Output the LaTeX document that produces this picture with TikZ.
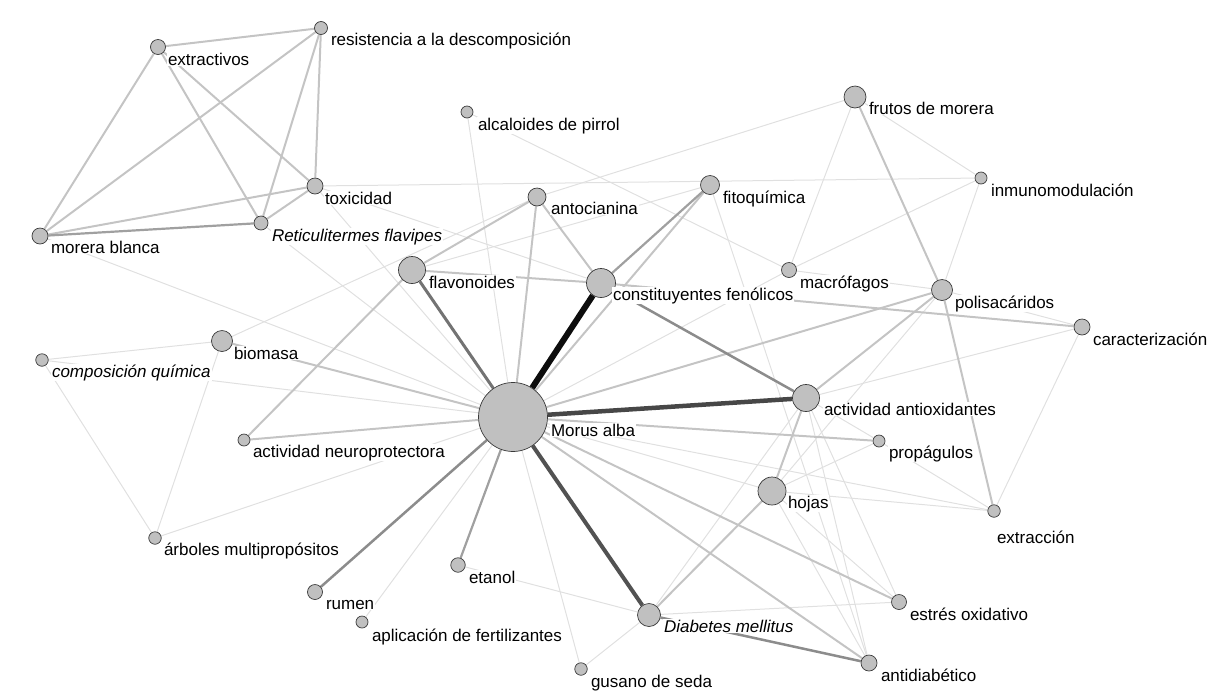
\documentclass[tikz,border=0pt]{standalone}
\usepackage{fontspec}
\setmainfont{Liberation Sans}
\definecolor{vfill}{HTML}{C0C0C0}
\definecolor{vline}{HTML}{3A3A3A}
\definecolor{efaint}{HTML}{E0E0E0}
\definecolor{elight}{HTML}{C4C4C4}
\definecolor{emid}{HTML}{A0A0A0}
\definecolor{edark}{HTML}{8C8C8C}
\pgfdeclarelayer{background}
\pgfsetlayers{background,main}

\begin{document}
\begin{tikzpicture}
  [x=1pt,y=-1pt,
   v/.style={circle,fill=vfill,draw=vline,line width=0.7pt,inner sep=0pt},
   lab/.style={anchor=base west,fill=white,inner sep=0.8pt,font=\fontsize{17}{20}\selectfont},
   faint/.style={draw=efaint,line width=1pt},
   light/.style={draw=elight,line width=2pt},
   mid/.style={draw=emid,line width=2.2pt},
   heavy/.style={draw=edark,line width=2.5pt}]
  \useasboundingbox (0,0) rectangle (1216,697);

  \node[v,minimum size=15pt] (extr) at (158,47) {};
  \node[v,minimum size=13pt] (resis) at (321,28) {};
  \node[v,minimum size=12pt] (alcal) at (467,112) {};
  \node[v,minimum size=22pt] (frutos) at (855,97) {};
  \node[v,minimum size=12pt] (inmuno) at (981,178) {};
  \node[v,minimum size=16pt] (toxic) at (315,186) {};
  \node[v,minimum size=19pt] (fito) at (710,185) {};
  \node[v,minimum size=18pt] (antoc) at (537,197) {};
  \node[v,minimum size=16pt] (morera) at (40,236) {};
  \node[v,minimum size=14pt] (retic) at (261,223) {};
  \node[v,minimum size=15pt] (macro) at (789,270) {};
  \node[v,minimum size=27pt] (flavo) at (412,270) {};
  \node[v,minimum size=29pt] (const) at (601,283) {};
  \node[v,minimum size=21pt] (polis) at (942,290) {};
  \node[v,minimum size=16pt] (caract) at (1082,327) {};
  \node[v,minimum size=21pt] (biomasa) at (222,341) {};
  \node[v,minimum size=12.5pt] (compos) at (42,360) {};
  \node[v,minimum size=69pt] (morus) at (513,417) {};
  \node[v,minimum size=27pt] (antiox) at (806,398) {};
  \node[v,minimum size=12pt] (neuro) at (244,440) {};
  \node[v,minimum size=12pt] (propag) at (879,441) {};
  \node[v,minimum size=28pt] (hojas) at (772,491) {};
  \node[v,minimum size=12.5pt] (extrac) at (994,511) {};
  \node[v,minimum size=12.5pt] (arboles) at (155,538) {};
  \node[v,minimum size=14.5pt] (etanol) at (458,565) {};
  \node[v,minimum size=15pt] (rumen) at (315,592) {};
  \node[v,minimum size=15pt] (estres) at (899,602) {};
  \node[v,minimum size=23pt] (diab) at (649,615) {};
  \node[v,minimum size=12pt] (aplic) at (362,622) {};
  \node[v,minimum size=16pt] (antid) at (869,663) {};
  \node[v,minimum size=12.5pt] (gusano) at (581,669) {};

  \begin{pgfonlayer}{background}
    \foreach \from/\to in {morus/morera,morus/retic,morus/toxic,morus/alcal,morus/compos,
        morus/arboles,morus/aplic,morus/gusano,morus/hojas,morus/extrac,morus/macro,
        toxic/inmuno,toxic/const,flavo/fito,antoc/frutos,biomasa/antoc,biomasa/compos,
        biomasa/arboles,compos/arboles,alcal/macro,macro/frutos,macro/inmuno,macro/polis,
        frutos/inmuno,inmuno/polis,polis/caract,caract/antiox,caract/extrac,extrac/hojas,
        extrac/propag,propag/hojas,propag/antiox,hojas/estres,hojas/antid,antiox/estres,
        antiox/antid,diab/estres,diab/etanol,diab/gusano,diab/antiox,fito/antid,hojas/polis}
      \draw[faint] (\from) -- (\to);
    \foreach \from/\to in {extr/resis,extr/morera,extr/retic,extr/toxic,resis/morera,
        resis/retic,resis/toxic,morera/toxic,retic/toxic,morus/biomasa,morus/neuro,
        morus/propag,morus/estres,morus/antid,morus/polis,morus/antoc,morus/fito,
        flavo/antoc,flavo/const,flavo/neuro,antoc/const,const/caract,polis/frutos,
        polis/antiox,polis/extrac,antiox/hojas,hojas/diab}
      \draw[light] (\from) -- (\to);
    \foreach \from/\to in {morus/etanol,const/fito,morera/retic}
      \draw[mid] (\from) -- (\to);
    \foreach \from/\to in {morus/rumen,const/antiox,diab/antid}
      \draw[heavy] (\from) -- (\to);
    \draw[draw=black!55,line width=3pt] (morus) -- (flavo);
    \draw[draw=black!68,line width=4pt] (morus) -- (diab);
    \draw[draw=black!72,line width=4.5pt] (morus) -- (antiox);
    \draw[draw=black!95,line width=6pt] (morus) -- (const);
  \end{pgfonlayer}

  \node[lab] (lextr) at (167,65) {extractivos};
  \node[lab] (lresis) at (330,45) {resistencia a la descomposición};
  \node[lab] (lalcal) at (477,130) {alcaloides de pirrol};
  \node[lab] (lfrutos) at (868,114) {frutos de morera};
  \node[lab] (linmuno) at (990,196) {inmunomodulación};
  \node[lab] (ltoxic) at (324,204) {toxicidad};
  \node[lab] (lfito) at (722,203) {fitoquímica};
  \node[lab] (lantoc) at (550,214) {antocianina};
  \node[lab] (lmorera) at (50,253) {morera blanca};
  \node[lab] (lretic) at (271,241) {\itshape Reticulitermes flavipes};
  \node[lab] (lmacro) at (799,288) {macrófagos};
  \node[lab] (lflavo) at (428,288) {flavonoides};
  \node[lab] (lconst) at (612,300) {constituyentes fenólicos};
  \node[lab] (lpolis) at (954,308) {polisacáridos};
  \node[lab] (lcaract) at (1092,345) {caracterización};
  \node[lab] (lbiomasa) at (233,359) {biomasa};
  \node[lab] (lcompos) at (51,377) {\itshape composición química};
  \node[lab] (lmorus) at (550,436) {Morus alba};
  \node[lab] (lantiox) at (823,415) {actividad antioxidantes};
  \node[lab] (lneuro) at (252,457) {actividad neuroprotectora};
  \node[lab] (lpropag) at (888,458) {propágulos};
  \node[lab] (lhojas) at (787,508) {hojas};
  \node[lab] (lextrac) at (996,543) {extracción};
  \node[lab] (larboles) at (163,555) {árboles multipropósitos};
  \node[lab] (letanol) at (468,583) {etanol};
  \node[lab] (lrumen) at (325,609) {rumen};
  \node[lab] (lestres) at (909,620) {estrés oxidativo};
  \node[lab] (ldiab) at (663,632) {\itshape Diabetes mellitus};
  \node[lab] (laplic) at (371,641) {aplicación de fertilizantes};
  \node[lab] (lantid) at (880,681) {antidiabético};
  \node[lab] (lgusano) at (590,687) {gusano de seda};
\end{tikzpicture}
\end{document}
